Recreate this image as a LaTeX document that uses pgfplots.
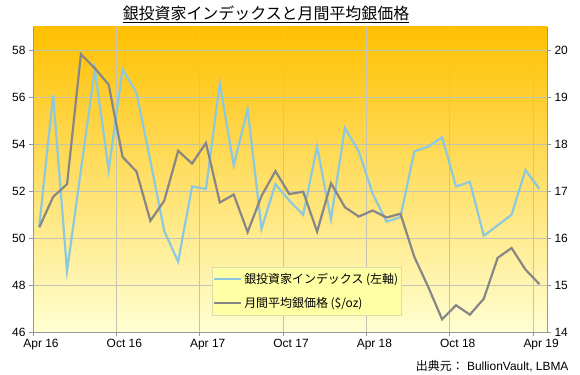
\documentclass[border=0pt]{standalone}
\usepackage{fontspec}
\setmainfont{Liberation Sans}
\newfontfamily\jp{Noto Sans CJK JP}
\usepackage{pgfplots}
\usepackage{pgfplotstable}
\pgfplotsset{compat=1.18}

\definecolor{bgtop}{HTML}{FFC000}
\definecolor{bgmid}{HTML}{FFF845}
\definecolor{bgbot}{HTML}{FFFFD2}
\definecolor{idx}{RGB}{140,200,222}
\definecolor{ag}{RGB}{135,135,135}
\definecolor{axcol}{RGB}{150,150,150}
\definecolor{gridcol}{RGB}{196,196,180}

\pgfplotstableread{
x idx ag
0.45 50.5 16.23
1.45 56.1 16.88
2.45 48.6 17.15
3.45 52.9 19.92
4.45 57.2 19.62
5.45 52.9 19.27
6.45 57.2 17.73
7.45 56.2 17.42
8.45 53.3 16.37
9.45 50.3 16.80
10.45 49.0 17.86
11.45 52.2 17.59
12.45 52.1 18.03
13.45 56.6 16.76
14.45 53.1 16.93
15.45 55.5 16.13
16.45 50.4 16.90
17.45 52.3 17.43
18.45 51.6 16.94
19.45 51.0 16.99
20.45 53.9 16.14
21.45 50.8 17.17
22.45 54.7 16.66
23.45 53.7 16.46
24.45 51.9 16.59
25.45 50.7 16.44
26.45 50.9 16.52
27.45 53.7 15.60
28.45 53.9 14.96
29.45 54.3 14.27
30.45 52.2 14.57
31.45 52.4 14.37
32.45 50.1 14.71
33.45 50.55 15.58
34.45 51.0 15.79
35.45 52.9 15.33
36.45 52.1 15.02
}\data

\pgfplotsset{base/.style={
  at={(0,0)}, anchor=south west, scale only axis,
  width=514bp, height=305bp, xmin=0, xmax=37,
  /pgf/number format/assume math mode=true,
  tick label style={font=\fontsize{12}{14}\selectfont, text=black},
  tick align=outside, major tick length=4bp,
  axis line style={axcol, line width=0.8bp},
  tick style={axcol, line width=0.8bp},
}}

\begin{document}
\begin{tikzpicture}
\path[use as bounding box] (-33bp,-43bp) rectangle (547bp,332bp);
\begin{axis}[base,
  ymin=46, ymax=59, ytick={46,48,...,58},
  axis x line*=bottom, axis y line*=left,
  xtick={0,6,...,36},
  xticklabels={Apr 16,Oct 16,Apr 17,Oct 17,Apr 18,Oct 18,Apr 19},
  xticklabel style={xshift=8bp},
  grid=major, grid style={gridcol, line width=0.8bp},
  axis background/.style={top color=bgtop, middle color=bgmid, bottom color=bgbot},
]
\addplot[idx, line width=2.2bp] table[x=x,y=idx]{\data};
\end{axis}
\begin{axis}[base,
  ymin=14, ymax=20.5, ytick={14,...,20},
  axis y line*=right, axis x line=none,
  legend style={at={(0.348,0.056)}, anchor=south west,
    draw={rgb,255:red,220;green,220;blue,170}, fill={rgb,255:red,255;green,255;blue,165},
    font=\jp\fontsize{12}{14}\selectfont, inner xsep=1bp, inner ysep=4bp,
    row sep=8bp},
  legend cell align=left,
  legend image code/.code={\draw[#1] (0bp,0bp) -- (27bp,0bp);},
]
\addlegendimage{idx, line width=2.2bp}
\addlegendentry{銀投資家インデックス (左軸)}
\addplot[ag, line width=2.2bp] table[x=x,y=ag]{\data};
\addlegendentry{月間平均銀価格 (\$/oz)}
\end{axis}
\node[font=\jp\fontsize{16}{18}\selectfont] at (233bp,318bp) {\underline{銀投資家インデックスと月間平均銀価格}};
\node[anchor=east, font=\fontsize{12}{14}\selectfont] at (539bp,-34bp) {{\jp 出典元：} BullionVault, LBMA};
\end{tikzpicture}
\end{document}
